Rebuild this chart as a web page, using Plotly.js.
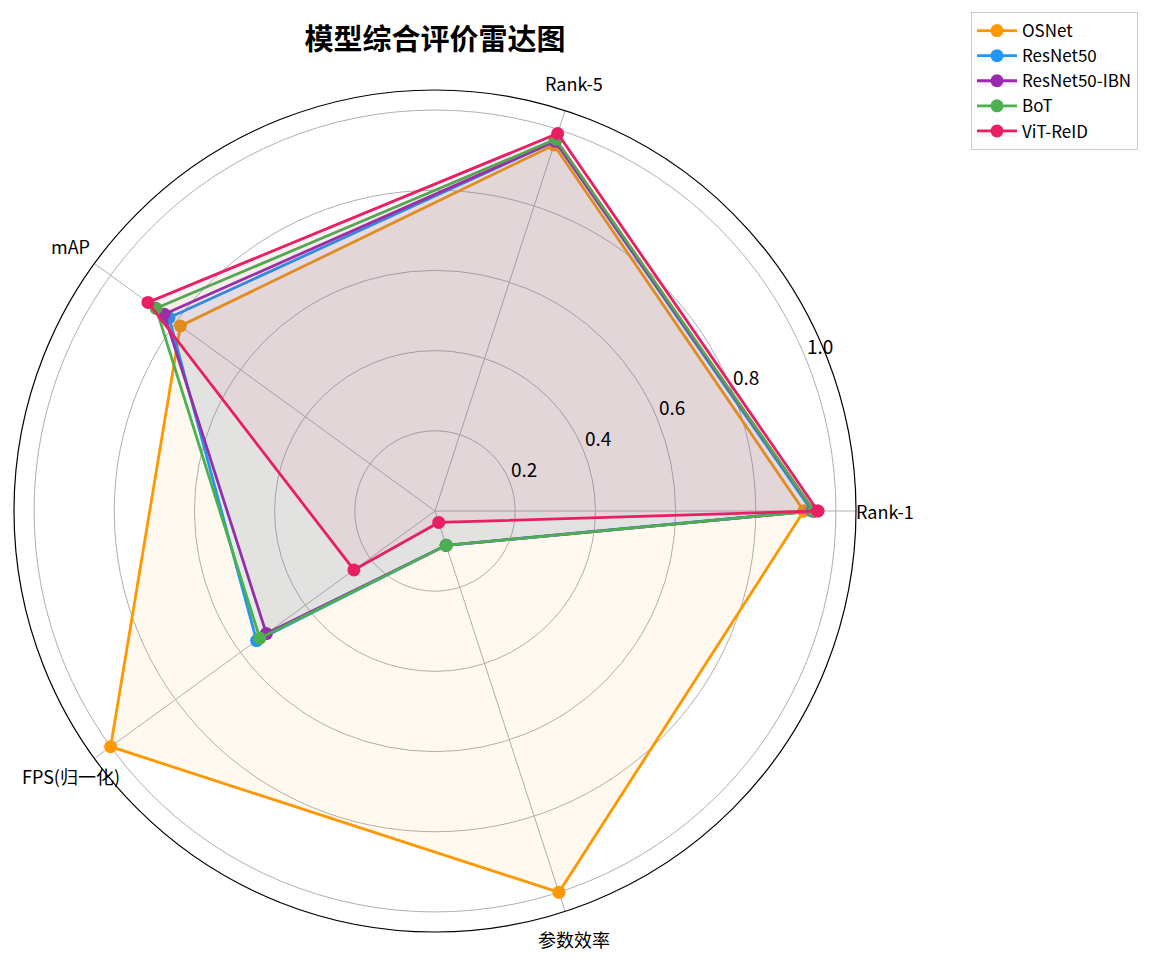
<!DOCTYPE html>
<html>
<head>
<meta charset="utf-8">
<script src="https://cdn.plot.ly/plotly-3.0.1.min.js"></script>
<style>
  html, body { margin: 0; padding: 0; background: #fff; }
  #chart { width: 1158px; height: 960px; }
</style>
</head>
<body>
<div id="chart"></div>
<script>
// Axes of the radar, counter-clockwise from the east
const categories = ["Rank-1", "Rank-5", "mAP", "FPS(归一化)", "参数效率"];

// Normalised scores
const osnet     = [0.92,  0.96,  0.785, 1.00, 1.00];
const resnet50  = [0.94,  0.97,  0.82,  0.55, 0.09];
const resnetIbn = [0.945, 0.97,  0.835, 0.52, 0.09];
const bot       = [0.945, 0.975, 0.86,  0.54, 0.09];
const vitReid   = [0.955, 0.99,  0.885, 0.25, 0.03];

const modelNames = ["OSNet", "ResNet50", "ResNet50-IBN", "BoT", "ViT-ReID"];
const colors = ["#FF9800", "#2196F3", "#9C27B0", "#4CAF50", "#E91E63"];
const fills = [
    "rgba(255,152,0,0.06)", "rgba(33,150,243,0.06)", "rgba(156,39,176,0.06)",
    "rgba(76,175,80,0.06)", "rgba(233,30,99,0.06)"
];

const radialTicks = [0.2, 0.4, 0.6, 0.8, 1.0];
const rMax = 1.05;

const FONT = "'Noto Sans CJK SC', 'DejaVu Sans', sans-serif";

// close the polygon by repeating the first point
function closeLoop(arr) {
    return arr.concat([arr[0]]);
}

const allSeries = [osnet, resnet50, resnetIbn, bot, vitReid];
const traces = allSeries.map((vals, i) => ({
    type: "scatterpolar",
    r: closeLoop(vals),
    theta: closeLoop(categories),
    name: modelNames[i],
    mode: "lines+markers",
    fill: "toself",
    fillcolor: fills[i],
    line: { color: colors[i], width: 2.8 },
    marker: { color: colors[i], size: 13 },
    cliponaxis: false
}));

const W = 1158, H = 960;
// polar area: centre near (435, 511), outer radius ~421 px
const cx = 435, cy = 511, R = 421;
const pxPerUnit = R / rMax;

// pixel -> paper helpers
const px = x => x / W;
const py = y => 1 - y / H;

// Axis labels drawn like matplotlib does: category names sit ~29px beyond the rim,
// radial labels sit along the 22.5 deg spoke, nudged up and right.
const annotations = [];
categories.forEach((name, i) => {
    const a = i * 2 * Math.PI / categories.length;
    annotations.push({
        text: name,
        xref: "paper", yref: "paper",
        x: px(cx + (R + 29) * Math.cos(a)),
        y: py(cy - (R + 29) * Math.sin(a)),
        xanchor: "center", yanchor: "middle",
        showarrow: false,
        font: { family: FONT, size: 18, color: "#000" }
    });
});
const tickAngle = 22.5 * Math.PI / 180;
radialTicks.forEach(v => {
    annotations.push({
        text: v.toFixed(1),
        xref: "paper", yref: "paper",
        x: px(cx + v * pxPerUnit * Math.cos(tickAngle) + 15),
        y: py(cy - v * pxPerUnit * Math.sin(tickAngle) - 12),
        xanchor: "center", yanchor: "middle",
        showarrow: false,
        font: { family: FONT, size: 19, color: "#000" }
    });
});

const layout = {
    width: W,
    height: H,
    margin: { l: 0, r: 0, t: 0, b: 0 },
    paper_bgcolor: "#fff",
    font: { family: FONT, size: 15, color: "#000" },
    title: {
        text: "<b>模型综合评价雷达图</b>",
        font: { family: FONT, size: 29, color: "#000" },
        x: cx / W,
        xanchor: "center",
        y: 1 - 40 / H,
        yanchor: "middle"
    },
    showlegend: true,
    legend: {
        x: 971 / W,
        y: 1 - 12 / H,
        xanchor: "left",
        yanchor: "top",
        bordercolor: "#cccccc",
        borderwidth: 1,
        bgcolor: "#fff",
        font: { family: FONT, size: 17 },
        itemwidth: 40,
        tracegroupgap: 0
    },
    annotations: annotations,
    polar: {
        domain: {
            x: [px(cx - R), px(cx + R)],
            y: [py(cy + R), py(cy - R)]
        },
        bgcolor: "#fff",
        angularaxis: {
            type: "category",
            rotation: 0,
            direction: "counterclockwise",
            showline: true,
            linecolor: "#000",
            linewidth: 1.2,
            showgrid: true,
            gridcolor: "#b0b0b0",
            gridwidth: 1,
            ticks: "",
            showticklabels: false
        },
        radialaxis: {
            range: [0, rMax],
            angle: 22.5,
            tickvals: radialTicks,
            showticklabels: false,
            showline: false,
            ticks: "",
            showgrid: true,
            gridcolor: "#b0b0b0",
            gridwidth: 1
        }
    }
};

Plotly.newPlot("chart", traces, layout, { displayModeBar: false, staticPlot: true });
</script>
</body>
</html>
